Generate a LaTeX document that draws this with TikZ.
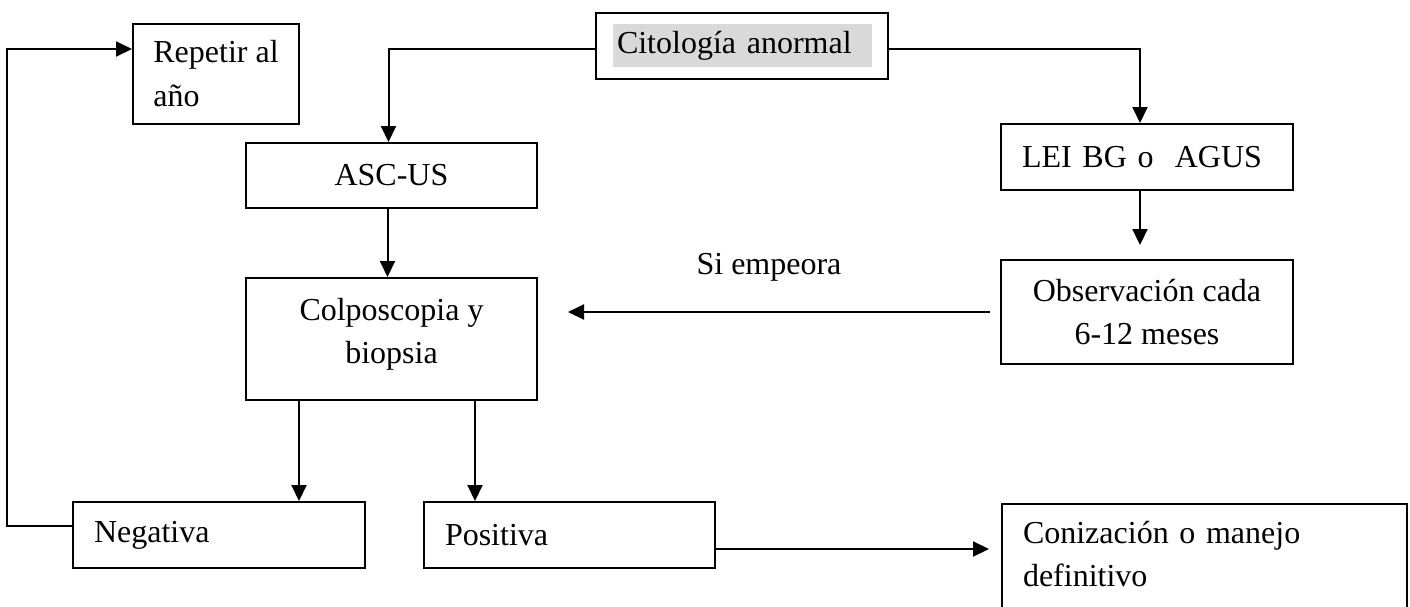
\documentclass[tikz,border=0pt]{standalone}
\usepackage{fontspec}
\setmainfont{Liberation Serif}
\usetikzlibrary{arrows.meta}
\definecolor{citgray}{HTML}{D9D9D9}
\begin{document}
\begin{tikzpicture}[x=0.5pt,y=-0.5pt,line width=1pt,font=\fontsize{16}{21.5}\selectfont]
            \tikzset{Box/.style={draw,rectangle,inner sep=0pt,align=center},
                     LBox/.style={draw,rectangle,inner xsep=10.5pt,inner ysep=0pt,align=left},
                     Arrow/.style={-{Triangle[length=8pt,width=7.5pt]}}}
            \useasboundingbox (0,0) rectangle (1410,606);
            \node[LBox,inner xsep=0pt,minimum width=83pt,minimum height=50pt] (rep) at (216,74) {Repetir al\\[0.5pt]año};
            \node[Box,minimum width=146pt,minimum height=33pt] (cit) at (742,46) {};
            \node[fill=citgray,inner xsep=2pt,inner ysep=0pt,text width=125.5pt,minimum height=21.5pt,align=left] (citTxt) at (742.5,45.5) {Citología anormal};
            \node[Box,minimum width=145.5pt,minimum height=32.5pt] (asc) at (391.5,175.5) {ASC-US};
            \node[LBox,text width=125pt,minimum height=33pt] (lei) at (1147,157) {LEI BG o\ \ AGUS};
            \node[Box,minimum width=146pt,minimum height=52pt] (obs) at (1147,312) {Observación cada\\6-12 meses};
            \node[Box,minimum width=145.5pt,minimum height=61pt] (col) at (391.5,339) {Colposcopia y\\biopsia\\[-13.5pt]\mbox{}};
            \node[LBox,text width=125pt,minimum height=33pt] (neg) at (219,535) {Negativa};
            \node[LBox,text width=124.5pt,minimum height=33pt] (pos) at (569.5,535) {Positiva};
            \node[LBox,text width=181.5pt,inner ysep=8.5pt,anchor=north] (con) at (1204.5,503) {Conización o manejo\\definitivo\\\strut};
            % conectores
            \draw[Arrow] ([yshift=-1.5pt]cit.west) -| ([xshift=-1.5pt]asc.north);
            \draw[Arrow] ([yshift=-1.5pt]cit.east) -| ([xshift=-3.5pt]lei.north);
            \draw[Arrow,shorten >=7pt] ([xshift=-3.5pt]lei.south) -- ([xshift=-3.5pt]obs.north);
            \draw[Arrow] ([xshift=-2pt]asc.south) -- ([xshift=-2pt]col.north);
            \draw[Arrow,shorten <=5pt,shorten >=15pt] (obs.west) -- (obs.west -| col.east)
                node[midway,above=15pt,inner sep=0pt] (siemp) {Si empeora};
            \coordinate (negIn) at ([xshift=27pt]col.south west);
            \coordinate (posIn) at ([xshift=-31.5pt]col.south east);
            \draw[Arrow] (negIn) -- (negIn |- neg.north);
            \draw[Arrow] (posIn) -- (posIn |- pos.north);
            \draw[Arrow] ([yshift=4.5pt]neg.west) -- ++(-65,0) |- ([yshift=12.5pt]rep.west);
            \coordinate (conIn) at ([yshift=-7pt]pos.east);
            \draw[Arrow,shorten >=6pt] (conIn) -- (conIn -| con.west);
        \end{tikzpicture}
\end{document}
